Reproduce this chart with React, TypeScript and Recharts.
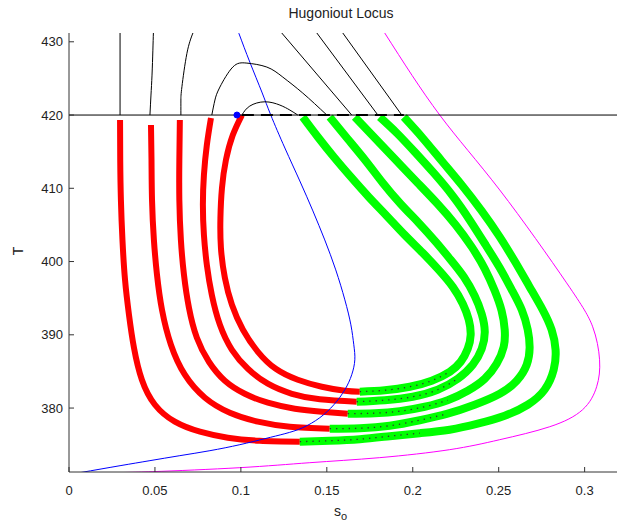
import React from "react";
import { LineChart, Line, XAxis, YAxis } from "recharts";

type Pt = [number, number];

const xTicks = [0, 0.05, 0.1, 0.15, 0.2, 0.25, 0.3];
const yTicks = [380, 390, 400, 410, 420, 430];

// red (left / bottom) parts of the five loci, inner to outer
const red1: Pt[] = [
  [0.1006, 420.0], [0.0953, 417.27], [0.0913, 413.86], [0.089, 410.05], [0.0881, 405.95], [0.0884, 401.86],
  [0.0907, 397.77], [0.0948, 394.09], [0.1012, 390.68], [0.1099, 387.68], [0.1203, 385.36], [0.1331, 383.86],
  [0.1471, 382.91], [0.1605, 382.36], [0.1692, 382.23],
];
const red2: Pt[] = [
  [0.0826, 419.59], [0.0802, 415.91], [0.0785, 411.82], [0.0779, 407.73], [0.0785, 403.64], [0.0802, 399.55],
  [0.0831, 395.45], [0.0878, 391.36], [0.0948, 387.95], [0.1041, 385.36], [0.1157, 383.32], [0.1297, 381.95],
  [0.1459, 381.2], [0.1674, 380.86],
];
const red3: Pt[] = [
  [0.0645, 419.32], [0.0642, 413.86], [0.0642, 408.41], [0.0651, 402.95], [0.0669, 398.18], [0.0698, 393.68],
  [0.0744, 389.59], [0.0814, 386.32], [0.0907, 383.73], [0.1023, 381.95], [0.1157, 380.73], [0.1314, 379.91],
  [0.1471, 379.5], [0.1622, 379.23],
];
const red4: Pt[] = [
  [0.0477, 418.64], [0.048, 413.86], [0.0483, 408.41], [0.0494, 402.95], [0.0512, 398.18], [0.0541, 393.41],
  [0.0593, 388.64], [0.0674, 384.55], [0.0791, 381.41], [0.0936, 379.36], [0.1099, 378.14], [0.1285, 377.45],
  [0.1517, 377.18],
];
const red5: Pt[] = [
  [0.0297, 419.32], [0.0298, 413.86], [0.0302, 408.41], [0.0311, 402.95], [0.0326, 397.5], [0.0349, 392.73],
  [0.0378, 388.23], [0.0424, 383.86], [0.05, 380.45], [0.0616, 378.14], [0.0762, 376.77], [0.0924, 375.95],
  [0.111, 375.54], [0.1343, 375.41],
];

// green (bottom / right) parts
const green1: Pt[] = [
  [0.1692, 382.23], [0.1837, 382.43], [0.1983, 382.91], [0.211, 383.73], [0.2215, 384.95], [0.2279, 386.32],
  [0.232, 388.09], [0.2337, 390.0], [0.2326, 392.04], [0.2291, 394.23], [0.2233, 396.54], [0.2151, 398.86],
  [0.2058, 401.18], [0.1953, 403.64], [0.1849, 406.23], [0.1744, 408.82], [0.164, 411.55], [0.1541, 414.27],
  [0.1448, 417.0], [0.136, 419.73],
];
const green2: Pt[] = [
  [0.1674, 380.86], [0.1837, 381.07], [0.2, 381.54], [0.2145, 382.5], [0.2262, 384.0], [0.2349, 385.91],
  [0.2401, 388.09], [0.2419, 390.41], [0.2401, 392.86], [0.236, 395.32], [0.2297, 397.91], [0.2221, 400.23],
  [0.2134, 402.68], [0.2035, 405.27], [0.193, 407.86], [0.1826, 410.73], [0.1727, 413.73], [0.1622, 416.73],
  [0.1517, 419.73],
];
const green3: Pt[] = [
  [0.1622, 379.23], [0.1779, 379.3], [0.1924, 379.57], [0.207, 380.18], [0.2203, 381.07], [0.232, 382.36],
  [0.2419, 384.0], [0.2488, 386.04], [0.2529, 388.36], [0.2535, 390.68], [0.2517, 393.27], [0.2477, 396.0],
  [0.2419, 399.0], [0.2343, 402.0], [0.225, 405.0], [0.2145, 407.86], [0.2029, 410.73], [0.1907, 413.73],
  [0.1785, 416.73], [0.1663, 419.73],
];
const green4: Pt[] = [
  [0.1517, 377.18], [0.1692, 377.25], [0.1866, 377.59], [0.2041, 378.34], [0.2203, 379.23], [0.236, 380.45],
  [0.2506, 381.95], [0.2605, 383.73], [0.2663, 385.91], [0.268, 388.23], [0.2669, 390.68], [0.2634, 393.41],
  [0.2576, 396.14], [0.2506, 399.14], [0.2424, 402.27], [0.2331, 405.68], [0.2233, 408.95], [0.2122, 412.09],
  [0.2012, 414.95], [0.1907, 417.55], [0.1808, 419.73],
];
const green5: Pt[] = [
  [0.1343, 375.41], [0.1517, 375.54], [0.1692, 375.75], [0.1866, 376.16], [0.2041, 376.57], [0.2215, 377.04],
  [0.2378, 377.86], [0.2535, 378.95], [0.2669, 380.45], [0.2767, 382.5], [0.282, 385.23], [0.2831, 387.95],
  [0.2808, 390.68], [0.2756, 393.41], [0.268, 396.54], [0.2599, 399.82], [0.2506, 403.36], [0.2401, 406.91],
  [0.2285, 410.45], [0.2169, 413.73], [0.2058, 416.86], [0.1948, 419.73],
];

// black continuations above T = 420
const upper5: Pt[] = [[0.0297, 420], [0.0297, 431.2]];
const upper4: Pt[] = [[0.0471, 420], [0.0477, 422.73], [0.0483, 425.45], [0.0488, 428.86], [0.0491, 431.2]];
const upper3: Pt[] = [[0.0651, 420], [0.0651, 422.05], [0.0657, 423.86], [0.0686, 428.41], [0.0721, 431.2]];
const arch2: Pt[] = [
  [0.0831, 420], [0.0849, 422.05], [0.0878, 423.82], [0.0953, 426.55], [0.1035, 427.09],
  [0.1151, 426.55], [0.1244, 425.18], [0.136, 423.0], [0.15, 420],
];
const arch1: Pt[] = [[0.1006, 420], [0.1052, 421.23], [0.114, 421.81], [0.1227, 421.36], [0.1285, 420.68], [0.1331, 420]];
const diag3: Pt[] = [[0.1645, 420], [0.1238, 431.2]];
const diag4: Pt[] = [[0.1797, 420], [0.1442, 431.2]];
const diag5: Pt[] = [[0.1936, 420], [0.1593, 431.2]];
const level: Pt[] = [[0, 420], [0.32, 420]];
const levelDash: Pt[] = [[0.1006, 420], [0.1948, 420]];

const blue: Pt[] = [
  [0.0988, 431.18], [0.1052, 427.23], [0.1122, 423.14], [0.1174, 420.0], [0.1256, 415.5], [0.1343, 411.0],
  [0.1419, 406.91], [0.1488, 402.95], [0.1552, 398.86], [0.1605, 394.77], [0.164, 391.36], [0.1657, 388.64],
  [0.1663, 386.59], [0.1645, 384.55], [0.1605, 382.5], [0.1541, 380.45], [0.1459, 378.68], [0.136, 377.32],
  [0.1256, 376.5], [0.114, 375.82], [0.0994, 375.0], [0.082, 374.18], [0.0645, 373.5], [0.0471, 372.82],
  [0.0297, 372.13], [0.0064, 371.18],
];
const blueDot: Pt[] = [[0.0977, 420]];

const magenta: Pt[] = [
  [0.1837, 431.2], [0.2157, 420.0], [0.2506, 409.77], [0.2895, 397.09], [0.3047, 391.09], [0.3087, 386.59],
  [0.307, 382.91], [0.2988, 379.77], [0.2797, 377.45], [0.2506, 375.68], [0.2215, 374.32], [0.1808, 373.23],
  [0.1401, 372.54], [0.0994, 371.86], [0.0488, 371.32], [0.0256, 371.18],
];

const rows = (pts: Pt[]) => pts.map(([x, y]) => ({ x, y }));

const font = "'Liberation Sans', Arial, sans-serif";
const ink = "#222";

function XTick(props: any) {
  const { x, y, payload } = props;
  return (
    <g>
      <line x1={x} x2={x} y1={y - 14} y2={y - 19} stroke="#333" />
      <text x={x} y={y} dy="0.71em" textAnchor="middle" fill={ink} fontSize={13} fontFamily={font}>
        {payload.value}
      </text>
    </g>
  );
}

function YTick(props: any) {
  const { x, y, payload } = props;
  return (
    <g>
      <line x1={x + 6} x2={x + 11} y1={y} y2={y} stroke="#333" />
      <text x={x} y={y} dy="0.355em" textAnchor="end" fill={ink} fontSize={13} fontFamily={font}>
        {payload.value}
      </text>
    </g>
  );
}

export default function App() {
  const reds = [red1, red2, red3, red4, red5];
  const greens = [green1, green2, green3, green4, green5];
  const blacks = [upper5, upper4, upper3, arch2, arch1, diag3, diag4, diag5];
  return (
    <div
      style={{
        position: "absolute",
        left: 0,
        top: 0,
        width: 617,
        height: 528,
        overflow: "hidden",
        background: "#fff",
        fontFamily: font,
      }}
    >
      <LineChart width={640} height={528} margin={{ top: 33, right: 21, bottom: 26, left: 0 }}>
        <XAxis
          type="number"
          dataKey="x"
          domain={[0, 0.32]}
          ticks={xTicks}
          allowDataOverflow
          height={30}
          tickSize={0}
          tickMargin={14}
          tickLine={false}
          tick={<XTick />}
          stroke="#333"
        />
        <YAxis
          type="number"
          dataKey="y"
          domain={[371.27, 431.2]}
          ticks={yTicks}
          allowDataOverflow
          width={69}
          tickSize={0}
          tickMargin={6}
          tickLine={false}
          tick={<YTick />}
          stroke="#333"
        />
        {reds.map((d, i) => (
          <Line key={"r" + i} data={rows(d)} dataKey="y" type="natural" stroke="#ff0000" strokeWidth={6}
            dot={false} isAnimationActive={false} />
        ))}
        {greens.map((d, i) => (
          <Line key={"g" + i} data={rows(d)} dataKey="y" type="natural" stroke="#00ff00" strokeWidth={8}
            dot={false} isAnimationActive={false} />
        ))}
        {greens.map((d, i) => (
          <Line key={"gd" + i} data={rows(d.slice(0, 5))} dataKey="y" type="natural" stroke="#333"
            strokeWidth={1.3} strokeDasharray="1.3 5" dot={false} isAnimationActive={false} />
        ))}
        <Line data={rows(blue)} dataKey="y" type="natural" stroke="#0000ff" strokeWidth={1}
          dot={false} isAnimationActive={false} />
        <Line data={rows(magenta)} dataKey="y" type="natural" stroke="#ff00ff" strokeWidth={1}
          dot={false} isAnimationActive={false} />
        {blacks.map((d, i) => (
          <Line key={"b" + i} data={rows(d)} dataKey="y" type="natural" stroke="#000" strokeWidth={1}
            dot={false} isAnimationActive={false} />
        ))}
        <Line data={rows(level)} dataKey="y" type="linear" stroke="#000" strokeWidth={1}
          dot={false} isAnimationActive={false} />
        <Line data={rows(levelDash)} dataKey="y" type="linear" stroke="#000" strokeWidth={2}
          strokeDasharray="12 7" dot={false} isAnimationActive={false} />
        <Line data={rows(blueDot)} dataKey="y" stroke="none"
          dot={{ r: 3, fill: "#0000ff", stroke: "#0000ff" }} isAnimationActive={false} />
      </LineChart>
      <div style={{ position: "absolute", left: 241, width: 200, top: 5, textAlign: "center", fontSize: 14, color: ink }}>
        Hugoniout Locus
      </div>
      <div
        style={{
          position: "absolute",
          left: 10,
          top: 243,
          width: 16,
          textAlign: "center",
          fontSize: 14,
          color: ink,
          transform: "rotate(-90deg)",
        }}
      >
        T
      </div>
      <div style={{ position: "absolute", left: 334, top: 503, fontSize: 14, color: ink }}>
        s<sub style={{ fontSize: 11, verticalAlign: "-4px" }}>o</sub>
      </div>
    </div>
  );
}
